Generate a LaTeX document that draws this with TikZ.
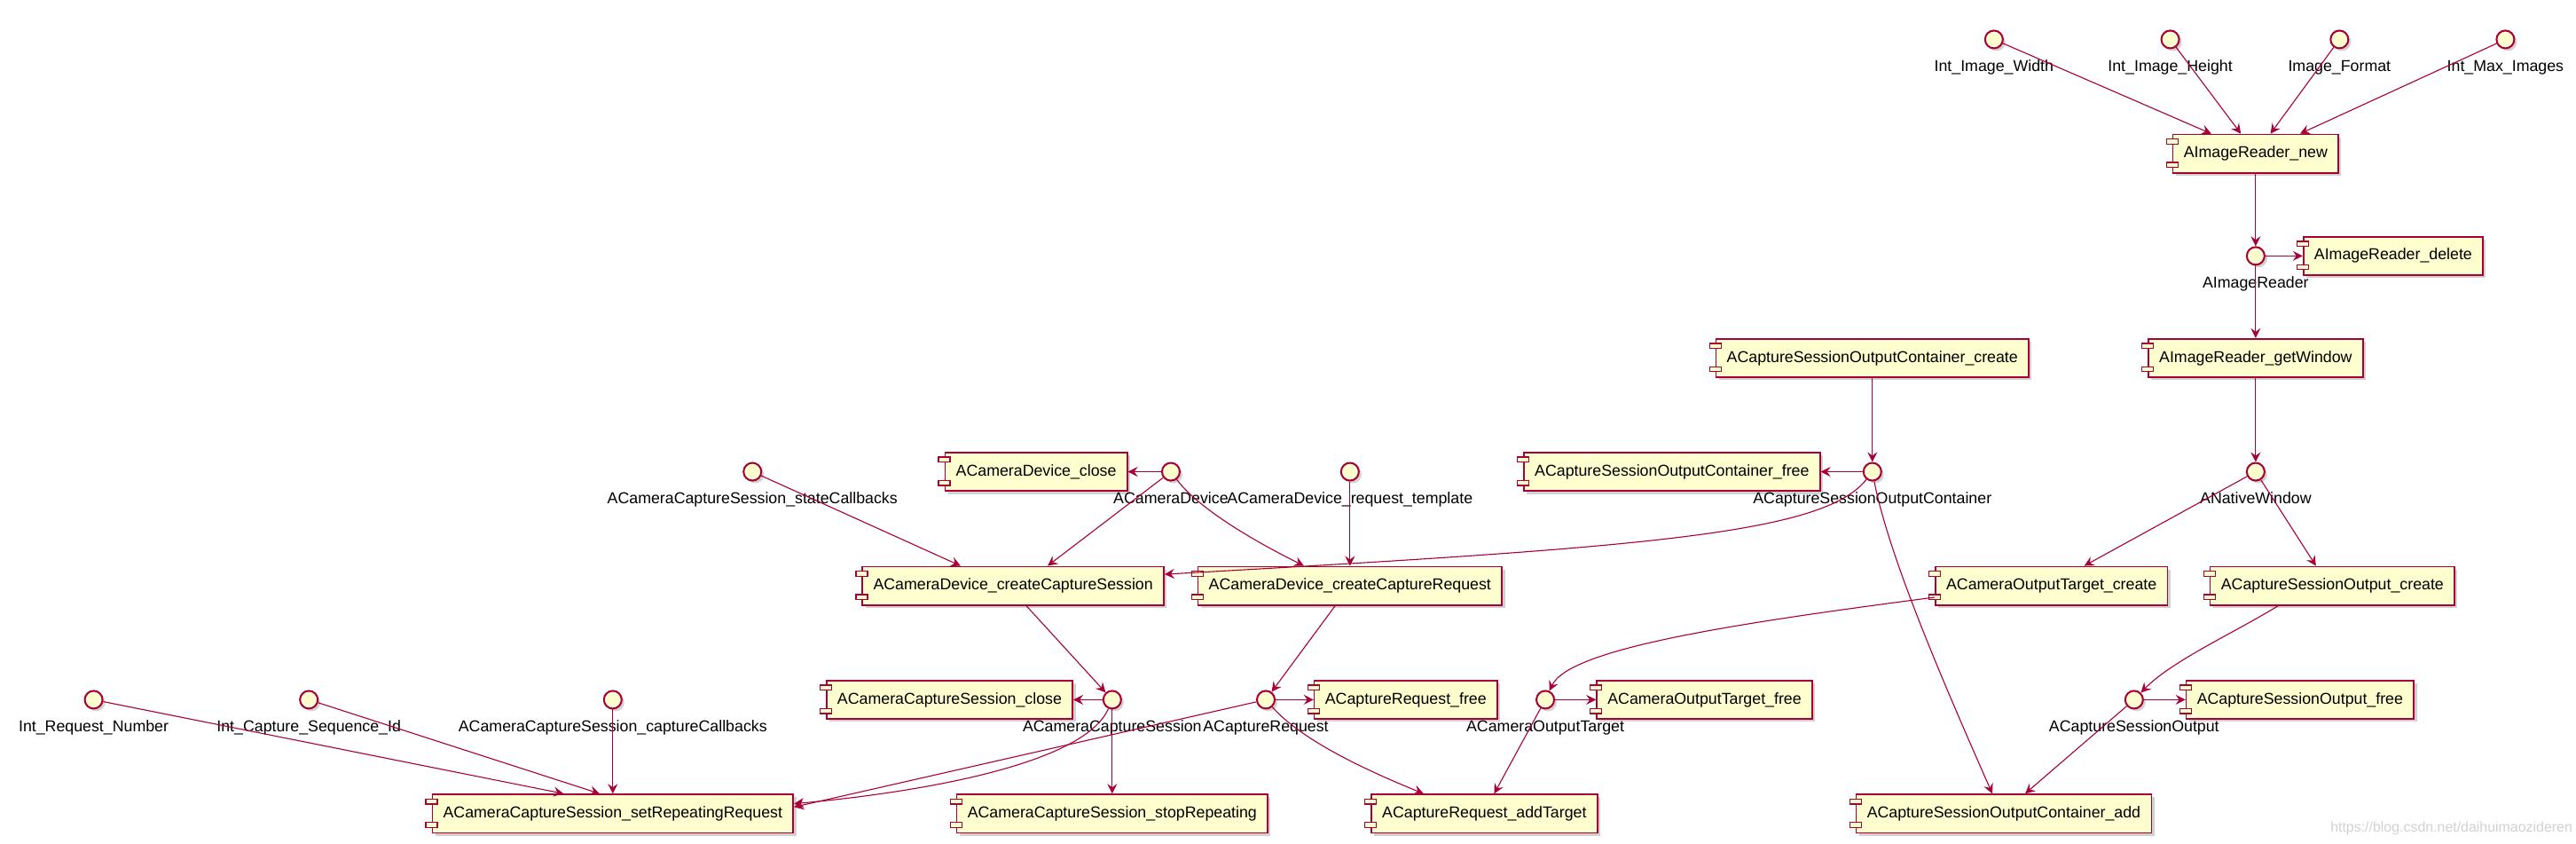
\documentclass[tikz,border=0pt]{standalone}
\usepackage{fontspec}
\setmainfont{Liberation Sans}
\usetikzlibrary{arrows.meta,shadows,calc}
\definecolor{pumlred}{HTML}{A80036}
\definecolor{pumlfill}{HTML}{FEFECE}
\tikzset{
  comp/.style={draw=pumlred, fill=pumlfill, line width=0.9pt, minimum height=23.4pt,
    inner xsep=6.6pt, inner ysep=0pt, text height=7pt, text depth=2pt,
    font=\fontsize{9.6}{11}\selectfont,
    drop shadow={shadow xshift=1.8pt, shadow yshift=-1.8pt, opacity=0.3, fill=black!60}},
  crect/.style={draw=pumlred, fill=pumlfill, line width=0.7pt},
  iface/.style={circle, draw=pumlred, fill=pumlfill, line width=1.1pt, minimum size=10.8pt, inner sep=0pt,
    drop shadow={shadow xshift=1.6pt, shadow yshift=-1.6pt, opacity=0.3, fill=black!60}},
  ilabel/.style={inner sep=0pt, text height=7pt, text depth=2pt, font=\fontsize{9.6}{11}\selectfont},
  arr/.style={draw=pumlred, line width=0.6pt, -{Stealth[length=6pt,width=6pt,inset=2.2pt]}},
}
\newcommand\mycomp[3]{%
  \node[comp] (#1) at (#2) {#3};
  \draw[crect] ($(#1.north west)+(-3.5pt,-3.3pt)$) rectangle ++(7pt,-3pt);
  \draw[crect] ($(#1.south west)+(-3.5pt,3.8pt)$) rectangle ++(7pt,3pt);
}
\newcommand\myiface[3]{%
  \node[iface] (#1) at (#2) {};
  \node[ilabel] (#1-l) at ($(#1)+(0,16.8)$) {#3};
}
\begin{document}
\begin{tikzpicture}[x=1pt,y=-1pt]
\useasboundingbox (0,0) rectangle (1568,513);
% components
\mycomp{irnew}{1373,93.5}{AImageReader\_new}
\mycomp{irdel}{1456.7,155.7}{AImageReader\_delete}
\mycomp{irgw}{1373,217.8}{AImageReader\_getWindow}
\mycomp{csoccreate}{1139.7,217.8}{ACaptureSessionOutputContainer\_create}
\mycomp{csocfree}{1017.7,287}{ACaptureSessionOutputContainer\_free}
\mycomp{cdclose}{630.7,287}{ACameraDevice\_close}
\mycomp{cdccs}{616.7,356.4}{ACameraDevice\_createCaptureSession}
\mycomp{cdccr}{821.7,356.4}{ACameraDevice\_createCaptureRequest}
\mycomp{cotcreate}{1248.7,356.4}{ACameraOutputTarget\_create}
\mycomp{csocreate}{1419.7,356.4}{ACaptureSessionOutput\_create}
\mycomp{ccsclose}{578,425.7}{ACameraCaptureSession\_close}
\mycomp{crfree}{855.7,425.7}{ACaptureRequest\_free}
\mycomp{cotfree}{1037.5,425.7}{ACameraOutputTarget\_free}
\mycomp{csofree}{1400,425.7}{ACaptureSessionOutput\_free}
\mycomp{ccssrr}{373,495}{ACameraCaptureSession\_setRepeatingRequest}
\mycomp{ccsstop}{677,495}{ACameraCaptureSession\_stopRepeating}
\mycomp{cradd}{903.5,495}{ACaptureRequest\_addTarget}
\mycomp{csocadd}{1219.7,495}{ACaptureSessionOutputContainer\_add}
% interfaces
\myiface{iw}{1213.7,24}{Int\_Image\_Width}
\myiface{ih}{1321,24}{Int\_Image\_Height}
\myiface{ifmt}{1424,24}{Image\_Format}
\myiface{imax}{1525,24}{Int\_Max\_Images}
\myiface{ir}{1373,155.7}{AImageReader}
\myiface{csoc}{1139.7,287}{ACaptureSessionOutputContainer}
\myiface{anw}{1373,287}{ANativeWindow}
\myiface{scb}{458,287}{ACameraCaptureSession\_stateCallbacks}
\myiface{cd}{712.7,287}{ACameraDevice}
\myiface{tpl}{821.7,287}{ACameraDevice\_request\_template}
\myiface{irn}{57,425.7}{Int\_Request\_Number}
\myiface{icsi}{188,425.7}{Int\_Capture\_Sequence\_Id}
\myiface{ccb}{373,425.7}{ACameraCaptureSession\_captureCallbacks}
\myiface{ccs}{677,425.7}{ACameraCaptureSession}
\myiface{cr}{770.5,425.7}{ACaptureRequest}
\myiface{cot}{940.6,425.7}{ACameraOutputTarget}
\myiface{cso}{1299,425.7}{ACaptureSessionOutput}
% connectors
\draw[arr] (iw) -- ([xshift=-27pt]irnew.north);
\draw[arr] (ih) -- ([xshift=-9pt]irnew.north);
\draw[arr] (ifmt) -- ([xshift=9pt]irnew.north);
\draw[arr] (imax) -- ([xshift=27pt]irnew.north);
\draw[arr] (irnew) -- (ir);
\draw[arr] (ir) -- (irdel.west);
\draw[arr] (ir) -- (irgw);
\draw[arr] (irgw) -- (anw);
\draw[arr] (anw) -- ([xshift=20pt]cotcreate.north);
\draw[arr] (anw) -- ([xshift=-10pt]csocreate.north);
\draw[arr] (csoccreate) -- (csoc);
\draw[arr] (csoc) -- (csocfree.east);
\draw[arr] (csoc) .. controls (1110,325) and (1000,333) .. ([yshift=7pt]cdccs.east);
\draw[arr] (csoc) .. controls (1150,340) and (1185,420) .. ([xshift=-7pt]csocadd.north);
\draw[arr] ([yshift=-7pt]cotcreate.west) .. controls (1050,380) and (955,395) .. (cot);
\draw[arr] (cot) -- (cotfree.west);
\draw[arr] (cot) -- ([xshift=6pt]cradd.north);
\draw[arr] ([xshift=-33pt]csocreate.south) .. controls (1360,385) and (1322,402) .. (cso);
\draw[arr] (cso) -- (csofree.west);
\draw[arr] (cso) -- ([xshift=13pt]csocadd.north);
\draw[arr] ([xshift=-9pt]cdccr.south) -- (cr);
\draw[arr] (cr) -- (crfree.west);
\draw[arr] (cr) .. controls (792,450) and (830,468) .. ([xshift=-37pt]cradd.north);
\draw[arr] (cr) -- ([yshift=4pt]ccssrr.east);
\draw[arr] (ccs) .. controls (660,465) and (560,482) .. ([yshift=6pt]ccssrr.east);
\draw[arr] (ccs) -- (ccsclose.east);
\draw[arr] (ccs) -- (ccsstop);
\draw[arr] ([xshift=8pt]cdccs.south) -- (ccs);
\draw[arr] (scb) -- ([xshift=-32pt]cdccs.north);
\draw[arr] (cd) -- ([xshift=21pt]cdccs.north);
\draw[arr] (cd) -- (cdclose.east);
\draw[arr] (cd) .. controls (730,310) and (765,330) .. ([xshift=-28pt]cdccr.north);
\draw[arr] (tpl) -- (cdccr);
\draw[arr] (irn) -- ([xshift=-30pt]ccssrr.north);
\draw[arr] (icsi) -- ([xshift=-8pt]ccssrr.north);
\draw[arr] (ccb) -- (ccssrr);
% watermark
\node[font=\fontsize{8.6}{10}\selectfont, text=black!18, anchor=east, inner sep=0pt] (wm) at (1566,504) {https://blog.csdn.net/daihuimaozideren};
\end{tikzpicture}
\end{document}
